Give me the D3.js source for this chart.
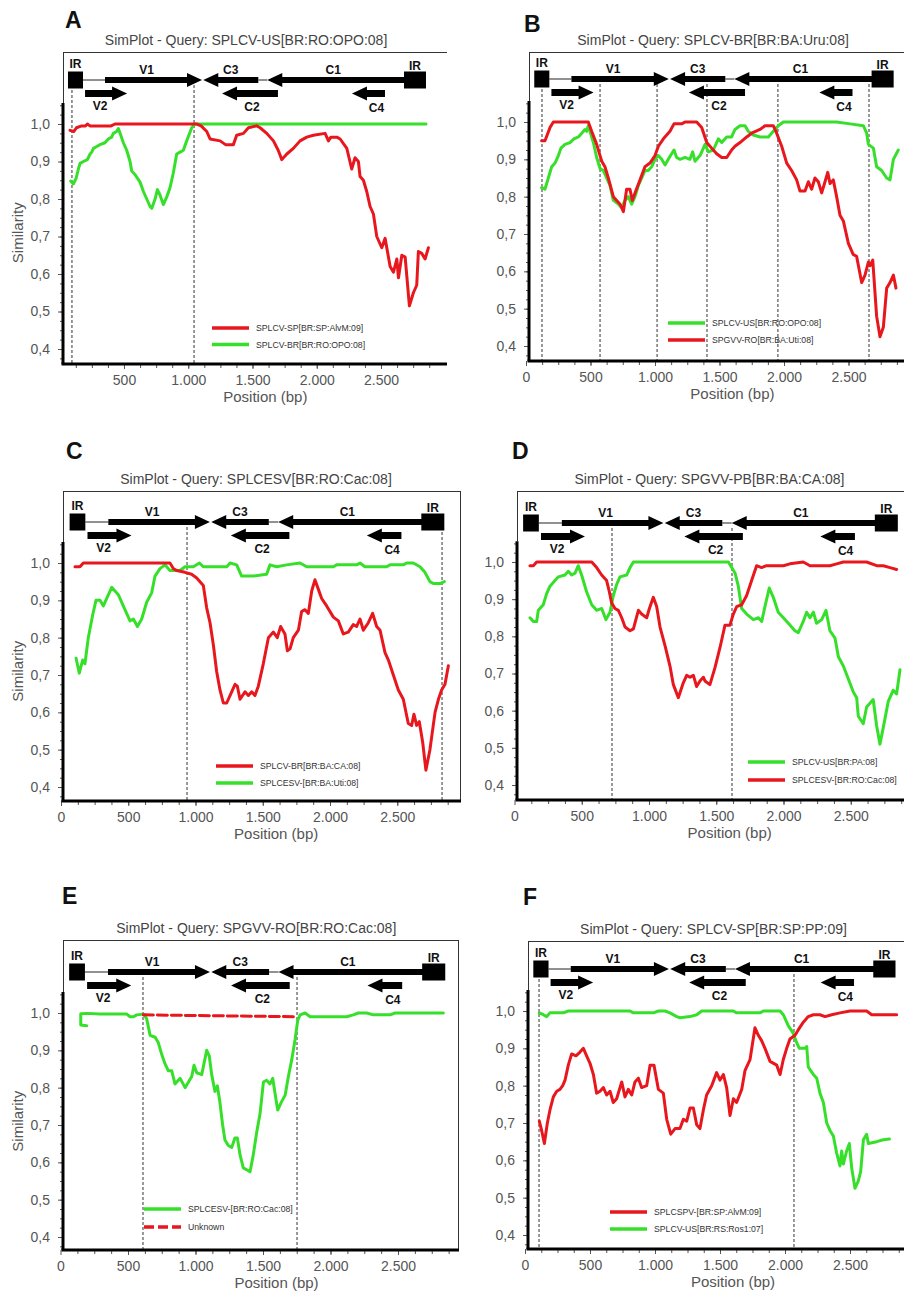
<!DOCTYPE html>
<html>
<head>
<meta charset="utf-8">
<script src="https://cdn.jsdelivr.net/npm/d3@7/dist/d3.min.js"></script>
<style>
  body { margin: 0; background: #fff; }
  svg { display: block; font-family: "Liberation Sans", Arial, sans-serif; }
</style>
</head>
<body>
<svg id="fig" width="904" height="1292"></svg>
<script>
// ---- axis ticks ----
const xTicks = [0, 500, 1000, 1500, 2000, 2500];
const yTicks = [0.4, 0.5, 0.6, 0.7, 0.8, 0.9, 1.0];

// ---- genome map (bp) ----
const genes = [
  { name: "IR", start: 64,   end: 181,  kind: "box", row: "main" },
  { name: "V1", start: 352,  end: 1107, kind: "fwd", row: "main" },
  { name: "C3", start: 1117, end: 1545, kind: "rev", row: "main" },
  { name: "C1", start: 1615, end: 2687, kind: "rev", row: "main" },
  { name: "IR", start: 2679, end: 2850, kind: "box", row: "main" },
  { name: "V2", start: 197,  end: 524,  kind: "fwd", row: "low" },
  { name: "C2", start: 1263, end: 1698, kind: "rev", row: "low" },
  { name: "C4", start: 2274, end: 2531, kind: "rev", row: "low" }
];
const spacers = [[181, 352], [1545, 1615]];

// ---- panel titles ----
const titles = [
  "SimPlot - Query: SPLCV-US[BR:RO:OPO:08]",
  "SimPlot - Query: SPLCV-BR[BR:BA:Uru:08]",
  "SimPlot - Query: SPLCESV[BR:RO:Cac:08]",
  "SimPlot - Query: SPGVV-PB[BR:BA:CA:08]",
  "SimPlot - Query: SPGVV-RO[BR:RO:Cac:08]",
  "SimPlot - Query: SPLCV-SP[BR:SP:PP:09]"
];

// ---- breakpoints (bp) ----
const aBreaks = [95, 1045];
const bBreaks = [124, 574, 1016, 1403, 1953, 2659];
const cBreaks = [937, 2833];
const dBreaks = [725, 1617];
const eBreaks = [611, 1752];
const fBreaks = [108, 2069];

// ---- similarity series [position bp, similarity] ----
const aRed = [[80,0.983],[110,0.98],[130,0.99],[170,0.995],[200,0.995],[215,1.0],[235,0.995],[330,0.995],[400,0.995],[430,1.0],[1066,1.0],[1100,0.995],[1144,0.98],[1170,0.96],[1248,0.955],[1290,0.945],[1351,0.945],[1377,0.97],[1430,0.975],[1468,0.99],[1533,0.995],[1559,0.99],[1611,0.975],[1663,0.955],[1700,0.93],[1728,0.905],[1767,0.92],[1818,0.935],[1870,0.955],[1922,0.965],[1974,0.97],[2065,0.975],[2091,0.955],[2110,0.965],[2156,0.965],[2182,0.96],[2234,0.935],[2272,0.88],[2298,0.91],[2324,0.9],[2337,0.86],[2363,0.85],[2389,0.82],[2415,0.78],[2441,0.76],[2467,0.7],[2506,0.67],[2532,0.695],[2571,0.62],[2597,0.605],[2623,0.64],[2636,0.59],[2662,0.65],[2688,0.645],[2721,0.515],[2752,0.55],[2778,0.57],[2791,0.66],[2817,0.655],[2843,0.64],[2869,0.67]];
const aGreen = [[85,0.848],[106,0.84],[127,0.855],[145,0.88],[158,0.895],[184,0.9],[215,0.905],[236,0.92],[249,0.925],[262,0.935],[288,0.94],[313,0.945],[352,0.95],[378,0.96],[404,0.965],[417,0.975],[443,0.98],[456,0.988],[470,0.975],[495,0.95],[521,0.93],[547,0.9],[560,0.875],[586,0.865],[625,0.845],[651,0.82],[677,0.8],[703,0.78],[716,0.775],[742,0.8],[760,0.825],[781,0.81],[806,0.785],[832,0.805],[858,0.83],[884,0.87],[910,0.92],[936,0.925],[962,0.93],[988,0.955],[1027,0.99],[1053,1.0],[2850,1.0]];

const bGreen = [[121,0.824],[147,0.82],[173,0.85],[199,0.88],[225,0.89],[251,0.91],[271,0.93],[302,0.94],[341,0.945],[372,0.955],[406,0.96],[432,0.97],[457,0.98],[470,0.975],[483,0.99],[496,0.975],[522,0.945],[548,0.905],[574,0.875],[600,0.87],[625,0.85],[651,0.83],[677,0.79],[716,0.78],[742,0.77],[767,0.79],[793,0.8],[819,0.78],[845,0.8],[871,0.83],[897,0.85],[922,0.87],[948,0.87],[974,0.88],[1000,0.9],[1026,0.91],[1052,0.9],[1078,0.885],[1103,0.9],[1147,0.925],[1168,0.905],[1194,0.9],[1233,0.905],[1271,0.9],[1292,0.92],[1310,0.895],[1349,0.91],[1388,0.94],[1413,0.92],[1452,0.925],[1491,0.955],[1517,0.945],[1556,0.96],[1594,0.96],[1620,0.98],[1659,0.99],[1698,0.99],[1723,0.975],[1762,0.965],[1814,0.96],[1879,0.96],[1917,0.975],[1956,0.99],[1995,1.0],[2124,1.0],[2253,1.0],[2408,1.0],[2512,0.995],[2615,0.99],[2641,0.97],[2654,0.94],[2693,0.93],[2718,0.88],[2757,0.87],[2796,0.85],[2822,0.845],[2848,0.9],[2886,0.925]];
const bRed = [[121,0.95],[147,0.95],[186,0.985],[212,1.0],[483,1.0],[509,0.975],[548,0.94],[587,0.895],[612,0.88],[638,0.85],[677,0.8],[703,0.79],[729,0.78],[755,0.76],[780,0.82],[806,0.82],[824,0.79],[845,0.81],[884,0.845],[922,0.88],[961,0.89],[1000,0.91],[1026,0.935],[1065,0.955],[1116,0.975],[1147,0.995],[1207,0.995],[1233,1.0],[1323,1.0],[1362,0.985],[1401,0.945],[1439,0.93],[1478,0.915],[1517,0.905],[1556,0.905],[1594,0.925],[1620,0.935],[1659,0.945],[1711,0.96],[1749,0.97],[1814,0.98],[1853,0.99],[1917,0.99],[1943,0.97],[1982,0.935],[2021,0.89],[2059,0.87],[2098,0.845],[2124,0.815],[2163,0.815],[2189,0.84],[2214,0.82],[2240,0.85],[2266,0.84],[2292,0.81],[2318,0.84],[2339,0.865],[2357,0.835],[2382,0.845],[2408,0.8],[2434,0.75],[2460,0.735],[2499,0.675],[2537,0.645],[2563,0.64],[2602,0.57],[2628,0.59],[2654,0.625],[2667,0.615],[2688,0.63],[2718,0.48],[2744,0.425],[2770,0.45],[2796,0.555],[2822,0.57],[2848,0.59],[2868,0.555]];

const cRed = [[104,0.99],[141,0.99],[166,1.0],[810,1.0],[835,0.985],[860,0.98],[922,0.975],[971,0.97],[1009,0.96],[1058,0.94],[1083,0.88],[1108,0.84],[1133,0.78],[1157,0.71],[1182,0.66],[1207,0.625],[1232,0.625],[1269,0.655],[1294,0.675],[1311,0.67],[1331,0.635],[1368,0.655],[1393,0.645],[1418,0.655],[1442,0.645],[1467,0.67],[1504,0.73],[1542,0.8],[1579,0.815],[1608,0.8],[1633,0.83],[1665,0.81],[1683,0.765],[1703,0.77],[1727,0.8],[1765,0.82],[1789,0.87],[1814,0.875],[1839,0.865],[1864,0.925],[1888,0.955],[1913,0.93],[1938,0.905],[1975,0.885],[2025,0.855],[2062,0.845],[2099,0.81],[2136,0.815],[2173,0.835],[2198,0.83],[2223,0.85],[2248,0.82],[2285,0.84],[2317,0.865],[2347,0.83],[2372,0.82],[2409,0.76],[2434,0.74],[2471,0.7],[2508,0.66],[2545,0.635],[2582,0.57],[2607,0.565],[2624,0.595],[2644,0.565],[2664,0.575],[2689,0.52],[2713,0.445],[2743,0.5],[2781,0.6],[2806,0.635],[2830,0.66],[2855,0.675],[2880,0.725]];
const cGreen = [[112,0.745],[136,0.705],[161,0.74],[178,0.73],[203,0.8],[235,0.86],[260,0.9],[290,0.9],[315,0.885],[340,0.905],[377,0.935],[426,0.915],[463,0.885],[513,0.845],[538,0.85],[568,0.83],[600,0.85],[637,0.895],[674,0.92],[699,0.965],[736,0.985],[773,0.995],[810,0.98],[885,0.98],[922,0.99],[984,0.99],[1029,1.0],[1058,0.99],[1232,0.99],[1257,1.0],[1306,0.995],[1343,0.965],[1430,0.965],[1529,0.97],[1554,0.995],[1603,0.99],[1678,0.995],[1777,1.0],[1827,0.99],[2025,0.99],[2049,0.995],[2198,0.995],[2223,1.0],[2260,0.99],[2421,0.99],[2446,0.995],[2545,0.995],[2570,1.0],[2619,1.0],[2669,0.99],[2706,0.975],[2743,0.95],[2768,0.945],[2818,0.945],[2850,0.95]];

const dGreen = [[115,0.85],[140,0.84],[165,0.84],[177,0.87],[214,0.885],[239,0.915],[264,0.935],[301,0.95],[326,0.96],[375,0.965],[400,0.975],[425,0.965],[450,0.97],[474,0.99],[499,0.965],[536,0.92],[574,0.885],[611,0.87],[648,0.875],[680,0.845],[710,0.865],[735,0.91],[760,0.94],[784,0.96],[834,0.965],[859,0.985],[884,1.0],[1590,1.0],[1615,0.985],[1640,0.97],[1664,0.935],[1689,0.875],[1726,0.86],[1776,0.845],[1813,0.85],[1838,0.84],[1862,0.88],[1894,0.93],[1924,0.905],[1961,0.865],[1999,0.85],[2036,0.835],[2085,0.815],[2110,0.81],[2147,0.84],[2172,0.865],[2197,0.85],[2222,0.865],[2246,0.835],[2284,0.845],[2316,0.87],[2345,0.815],[2383,0.795],[2408,0.745],[2445,0.72],[2482,0.685],[2519,0.65],[2544,0.635],[2556,0.585],[2593,0.565],[2618,0.61],[2667,0.63],[2692,0.56],[2717,0.51],[2742,0.555],[2779,0.625],[2816,0.655],[2841,0.645],[2866,0.71]];
const dRed = [[115,0.99],[140,0.99],[165,1.0],[574,1.0],[611,0.985],[648,0.965],[685,0.95],[705,0.92],[722,0.89],[747,0.875],[772,0.87],[797,0.85],[822,0.825],[859,0.815],[884,0.82],[921,0.87],[945,0.86],[983,0.85],[1003,0.875],[1032,0.905],[1057,0.88],[1082,0.825],[1119,0.775],[1156,0.72],[1181,0.67],[1218,0.635],[1255,0.675],[1280,0.695],[1305,0.69],[1330,0.695],[1354,0.665],[1379,0.68],[1404,0.69],[1416,0.68],[1453,0.67],[1490,0.715],[1528,0.77],[1565,0.83],[1602,0.83],[1627,0.86],[1652,0.88],[1689,0.885],[1726,0.91],[1763,0.95],[1800,0.99],[1837,0.985],[1874,0.99],[1999,0.99],[2048,0.995],[2147,1.0],[2197,0.99],[2296,0.99],[2345,0.99],[2395,0.995],[2445,1.0],[2618,1.0],[2693,0.99],[2742,0.99],[2792,0.985],[2841,0.98]];

const eGreen = [[194,0.966],[150,0.968],[150,0.998],[200,0.999],[293,0.997],[391,0.997],[491,0.997],[515,0.99],[541,0.99],[565,0.995],[614,0.997],[638,0.985],[664,0.94],[701,0.935],[725,0.92],[749,0.89],[773,0.865],[799,0.845],[824,0.845],[848,0.81],[886,0.825],[923,0.8],[948,0.815],[972,0.83],[989,0.86],[1009,0.84],[1046,0.835],[1083,0.9],[1102,0.885],[1120,0.835],[1144,0.79],[1162,0.805],[1181,0.76],[1201,0.7],[1218,0.66],[1243,0.645],[1268,0.64],[1292,0.665],[1310,0.665],[1330,0.62],[1354,0.585],[1379,0.58],[1404,0.575],[1428,0.62],[1453,0.68],[1478,0.73],[1503,0.815],[1527,0.82],[1552,0.81],[1572,0.825],[1589,0.785],[1609,0.74],[1634,0.76],[1664,0.78],[1688,0.83],[1713,0.875],[1738,0.93],[1757,0.98],[1775,0.995],[1812,1.0],[1849,0.99],[2022,0.99],[2120,0.99],[2169,0.995],[2206,1.0],[2268,1.0],[2317,0.995],[2441,0.995],[2478,1.0],[2836,1.0]];
const eUnknown = [[614,0.995],[1750,0.99]];

const fRed = [[110,0.705],[128,0.68],[149,0.645],[172,0.7],[192,0.735],[218,0.77],[244,0.785],[269,0.79],[290,0.8],[308,0.815],[333,0.855],[359,0.885],[392,0.88],[423,0.89],[449,0.9],[474,0.88],[500,0.86],[526,0.83],[551,0.78],[577,0.785],[603,0.795],[628,0.775],[654,0.785],[679,0.755],[705,0.765],[744,0.81],[769,0.77],[795,0.79],[821,0.775],[846,0.81],[872,0.82],[897,0.795],[936,0.8],[962,0.855],[992,0.855],[1026,0.79],[1064,0.78],[1090,0.71],[1121,0.67],[1154,0.685],[1192,0.685],[1218,0.71],[1244,0.705],[1269,0.74],[1295,0.74],[1321,0.695],[1346,0.685],[1372,0.735],[1397,0.775],[1436,0.8],[1474,0.835],[1500,0.815],[1526,0.83],[1551,0.795],[1577,0.72],[1603,0.765],[1628,0.755],[1667,0.79],[1692,0.84],[1731,0.87],[1769,0.955],[1795,0.935],[1821,0.92],[1846,0.9],[1885,0.865],[1936,0.855],[1962,0.83],[1987,0.87],[2013,0.9],[2038,0.925],[2077,0.935],[2103,0.95],[2141,0.97],[2179,0.985],[2218,0.99],[2269,0.99],[2308,0.985],[2359,0.99],[2423,0.995],[2500,1.0],[2628,1.0],[2667,0.99],[2756,0.99],[2859,0.99]];
const fGreen = [[110,0.995],[141,0.99],[167,0.985],[192,0.995],[295,0.995],[333,1.0],[808,1.0],[833,0.995],[987,0.995],[1026,1.0],[1077,1.0],[1115,0.995],[1167,0.985],[1192,0.982],[1269,0.985],[1321,0.99],[1359,1.0],[1603,1.0],[1628,0.995],[1808,0.995],[1833,1.0],[1962,1.0],[1987,0.99],[2026,0.96],[2064,0.94],[2090,0.915],[2110,0.9],[2154,0.9],[2167,0.905],[2179,0.85],[2218,0.83],[2244,0.82],[2269,0.78],[2295,0.755],[2321,0.7],[2346,0.68],[2372,0.665],[2397,0.62],[2423,0.585],[2436,0.625],[2449,0.59],[2474,0.625],[2495,0.645],[2513,0.58],[2538,0.525],[2564,0.545],[2582,0.57],[2603,0.655],[2628,0.67],[2641,0.645],[2705,0.65],[2756,0.655],[2803,0.657]];

// ---- colours ----
const RED = "#e8171d";
const GREEN = "#36e02a";

// ---- panel definitions: content plus placement on the sheet ----
const panels = [
  { letter: "A", title: titles[0], breaks: aBreaks, ylabel: true,
    series: [ { name: "SPLCV-SP[BR:SP:AlvM:09]", color: RED, data: aRed },
              { name: "SPLCV-BR[BR:RO:OPO:08]", color: GREEN, data: aGreen } ],
    draw: [1, 0],
    box: { left: 63, right: 447, closed: false, top: 52, x0: 59.75, k: 0.1285, y1: 124, y04: 349, bottom: 364, mapY: 80 },
    letterPos: [65, 28], legend: [212, 328, 16.5] },
  { letter: "B", title: titles[1], breaks: bBreaks, ylabel: false,
    series: [ { name: "SPLCV-US[BR:RO:OPO:08]", color: GREEN, data: bGreen },
              { name: "SPGVV-RO[BR:BA:Uti:08]", color: RED, data: bRed } ],
    draw: [0, 1],
    box: { left: 529, right: 906, closed: false, top: 52, x0: 526, k: 0.129, y1: 122, y04: 346, bottom: 361, mapY: 79 },
    letterPos: [524, 32], legend: [668, 323, 17] },
  { letter: "C", title: titles[2], breaks: cBreaks, ylabel: true,
    series: [ { name: "SPLCV-BR[BR:BA:CA:08]", color: RED, data: cRed },
              { name: "SPLCESV-[BR:BA:Uti:08]", color: GREEN, data: cGreen } ],
    draw: [1, 0],
    box: { left: 63, right: 461, closed: true, top: 491, x0: 61, k: 0.1345, y1: 563, y04: 787, bottom: 801, mapY: 522 },
    letterPos: [66, 459], legend: [216, 766, 17] },
  { letter: "D", title: titles[3], breaks: dBreaks, ylabel: false,
    series: [ { name: "SPLCV-US[BR:PA:08]", color: GREEN, data: dGreen },
              { name: "SPLCESV-[BR:RO:Cac:08]", color: RED, data: dRed } ],
    draw: [0, 1],
    box: { left: 517, right: 906, closed: false, top: 491, x0: 514.5, k: 0.1345, y1: 562, y04: 785, bottom: 800, mapY: 523 },
    letterPos: [512, 459], legend: [748, 762, 18] },
  { letter: "E", title: titles[4], breaks: eBreaks, ylabel: true,
    series: [ { name: "SPLCESV-[BR:RO:Cac:08]", color: GREEN, data: eGreen },
              { name: "Unknown", color: RED, data: eUnknown, dashed: true } ],
    draw: [0, 1],
    box: { left: 63, right: 459, closed: true, top: 940, x0: 60.5, k: 0.135, y1: 1013, y04: 1237, bottom: 1250, mapY: 972 },
    letterPos: [62, 904], legend: [144, 1209, 18] },
  { letter: "F", title: titles[5], breaks: fBreaks, ylabel: false,
    series: [ { name: "SPLCSPV-[BR:SP:AlvM:09]", color: RED, data: fRed },
              { name: "SPLCV-US[BR:RS:Ros1:07]", color: GREEN, data: fGreen } ],
    draw: [1, 0],
    box: { left: 528, right: 906, closed: false, top: 941, x0: 525, k: 0.13, y1: 1011, y04: 1235, bottom: 1249, mapY: 969 },
    letterPos: [523, 905], legend: [610, 1212, 17] }
];

const svg = d3.select("#fig");
const fmtX = v => d3.format(",")(v).replace(/,/g, ".");
const fmtY = v => d3.format(".1f")(v).replace(".", ",");

function drawPanel(p) {
  const b = p.box;
  const g = svg.append("g");
  const x = d3.scaleLinear().domain([0, 2500]).range([b.x0, b.x0 + 2500 * b.k]);
  const y = d3.scaleLinear().domain([0.4, 1.0]).range([b.y04, b.y1]);
  const yAxisTop = y(1.056);

  // panel letter and title
  g.append("text").attr("x", p.letterPos[0]).attr("y", p.letterPos[1])
    .attr("font-size", 23).attr("font-weight", "bold").attr("fill", "#111").text(p.letter);
  g.append("text").attr("x", x(1450)).attr("y", b.top - 7)
    .attr("text-anchor", "middle").attr("font-size", 14).attr("fill", "#444").text(p.title);

  // frame
  const frame = g.append("g").attr("stroke", "#333").attr("stroke-width", 1).attr("fill", "none");
  frame.append("line").attr("x1", b.left).attr("x2", b.right).attr("y1", b.top + 0.5).attr("y2", b.top + 0.5);
  frame.append("line").attr("x1", b.left + 0.5).attr("x2", b.left + 0.5).attr("y1", b.top).attr("y2", yAxisTop);
  if (b.closed) {
    frame.append("line").attr("x1", b.right - 0.5).attr("x2", b.right - 0.5).attr("y1", b.top).attr("y2", b.bottom);
  }

  // breakpoint markers
  g.append("g").selectAll("line").data(p.breaks).join("line")
    .attr("x1", d => x(d)).attr("x2", d => x(d))
    .attr("y1", b.mapY + 5).attr("y2", b.bottom)
    .attr("stroke", "#333").attr("stroke-width", 1).attr("stroke-dasharray", "3,2");

  // genome map
  const map = g.append("g").attr("fill", "#000");
  map.selectAll("line.sp").data(spacers).join("line")
    .attr("x1", d => x(d[0])).attr("x2", d => x(d[1]))
    .attr("y1", b.mapY).attr("y2", b.mapY).attr("stroke", "#222").attr("stroke-width", 1);
  genes.forEach(ge => {
    const cy = ge.row === "main" ? b.mapY : b.mapY + 13.5;
    const x1 = x(ge.start), x2 = x(ge.end);
    if (ge.kind === "box") {
      map.append("rect").attr("x", x1).attr("y", cy - 8.5).attr("width", x2 - x1).attr("height", 17);
      return;
    }
    const bar = ge.row === "main" ? 6 : 7;
    const hl = 15, hh = 14;
    let path;
    if (ge.kind === "fwd") {
      path = `M${x1},${cy - bar / 2}H${x2 - hl}V${cy - hh / 2}L${x2},${cy}L${x2 - hl},${cy + hh / 2}V${cy + bar / 2}H${x1}Z`;
    } else {
      path = `M${x2},${cy - bar / 2}H${x1 + hl}V${cy - hh / 2}L${x1},${cy}L${x1 + hl},${cy + hh / 2}V${cy + bar / 2}H${x2}Z`;
    }
    map.append("path").attr("d", path);
  });
  // gene labels
  const labelOffset = { V1: -7, V2: -6, C2: 2, C4: 8, C3: 0, C1: -3 };
  genes.forEach((ge, i) => {
    const cx = (x(ge.start) + x(ge.end)) / 2;
    let ly;
    if (ge.kind === "box") ly = b.mapY - (i === 0 ? 12 : 10);
    else if (ge.row === "main") ly = b.mapY - 6;
    else ly = b.mapY + 13.5 + (ge.name === "V2" ? 16 : ge.name === "C2" ? 17 : 18.5);
    g.append("text").attr("x", cx + (labelOffset[ge.name] || 0)).attr("y", ly)
      .attr("text-anchor", "middle").attr("font-size", 12).attr("font-weight", "bold")
      .attr("fill", "#111").text(ge.name);
  });

  // axes
  const xMajor = xTicks.filter(v => x(v) >= b.left - 3 && x(v) <= b.right);
  const xMinor = d3.range(0, 3000, 125).filter(v => x(v) > b.left + 2 && x(v) < b.right - 2);
  const xAx = g.append("g").attr("transform", `translate(0,${b.bottom})`)
    .call(d3.axisBottom(x).tickValues(xMajor).tickFormat(fmtX).tickSize(5).tickPadding(6));
  const xAxMinor = g.append("g").attr("transform", `translate(0,${b.bottom})`)
    .call(d3.axisBottom(x).tickValues(xMinor).tickFormat("").tickSize(4));
  const yAx = g.append("g").attr("transform", `translate(${b.left},0)`)
    .call(d3.axisLeft(y).tickValues(yTicks).tickFormat(fmtY).tickSize(5).tickPadding(8));
  const yMinor = d3.range(0.375, 1.06, 0.025);
  const yAxMinor = g.append("g").attr("transform", `translate(${b.left},0)`)
    .call(d3.axisLeft(y).tickValues(yMinor).tickFormat("").tickSize(3));
  [xAx, xAxMinor, yAx, yAxMinor].forEach(a => {
    a.select(".domain").remove();
    a.selectAll(".tick line").attr("stroke", "#555");
    a.selectAll("text").attr("font-family", "\"Liberation Sans\", Arial, sans-serif")
      .attr("font-size", 14).attr("fill", "#555");
  });
  // heavy axis lines
  g.append("line").attr("x1", b.left - 1.5).attr("x2", b.right).attr("y1", b.bottom).attr("y2", b.bottom)
    .attr("stroke", "#000").attr("stroke-width", 3);
  g.append("line").attr("x1", b.left).attr("x2", b.left).attr("y1", yAxisTop).attr("y2", b.bottom)
    .attr("stroke", "#000").attr("stroke-width", 3);

  // axis titles
  g.append("text").attr("x", x(1600)).attr("y", b.bottom + 38)
    .attr("text-anchor", "middle").attr("font-size", 15).attr("fill", "#555").text("Position (bp)");
  if (p.ylabel) {
    g.append("text").attr("transform", `translate(${b.left - 40},${y(0.71)}) rotate(-90)`)
      .attr("text-anchor", "middle").attr("font-size", 15).attr("fill", "#555").text("Similarity");
  }

  // similarity curves
  const line = d3.line().x(d => x(d[0])).y(d => y(d[1]));
  p.draw.forEach(i => {
    const s = p.series[i];
    g.append("path").datum(s.data).attr("d", line)
      .attr("fill", "none").attr("stroke", s.color).attr("stroke-width", 3)
      .attr("stroke-linejoin", "round").attr("stroke-linecap", "round")
      .attr("stroke-dasharray", s.dashed ? "10,4" : null);
  });

  // legend
  const [lx, ly, lgap] = p.legend;
  p.series.forEach((s, i) => {
    const yy = ly + i * lgap;
    g.append("line").attr("x1", lx).attr("x2", lx + 37).attr("y1", yy).attr("y2", yy)
      .attr("stroke", s.color).attr("stroke-width", 3.5)
      .attr("stroke-dasharray", s.dashed ? "10,4" : null);
    g.append("text").attr("x", lx + 44).attr("y", yy + 3.2)
      .attr("font-size", 8.7).attr("fill", "#333").text(s.name);
  });
}

panels.forEach(drawPanel);
</script>
</body>
</html>
